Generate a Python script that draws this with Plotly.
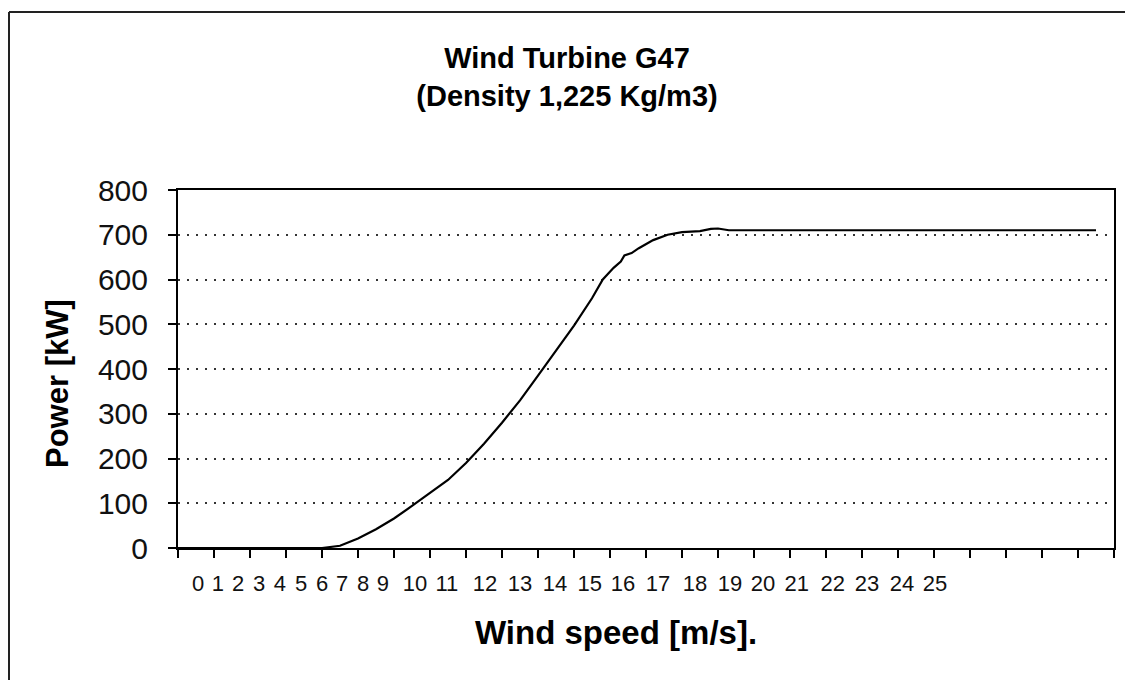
import plotly.graph_objects as go

# ---- data ----
wind_speed = [0, 4.0, 4.5, 5.0, 5.5, 6.0, 6.5, 7.0, 7.5, 8.0, 8.5, 9.0, 9.5, 10.0,
              10.5, 11.0, 11.5, 11.8, 12.1, 12.3, 12.4, 12.6, 12.8, 13.2, 13.6,
              14.0, 14.5, 14.8, 15.0, 15.3, 25.5]
power_kw = [0, 0, 5, 21, 42, 66, 94, 122, 152, 190, 233, 280, 330, 385,
            440, 497, 558, 600, 626, 640, 654, 659, 670, 688, 700,
            706, 708, 713, 714, 710, 710]

x_tick_labels = [str(i) for i in range(26)]
# where the (misaligned) category labels sit along the axis, in axis units
x_label_positions = [0.56, 1.11, 1.67, 2.25, 2.83, 3.42, 4.0, 4.56, 5.14, 5.69,
                     6.58, 7.47, 8.53, 9.5, 10.47, 11.44, 12.36, 13.33, 14.36,
                     15.33, 16.25, 17.19, 18.19, 19.14, 20.11, 21.03]
y_ticks = [0, 100, 200, 300, 400, 500, 600, 700, 800]
x_ticks = list(range(27))

FONT = "Liberation Sans, Arial, sans-serif"

# page has an 8px body margin: work in viewport pixels and shift by OFF
OFF = 8
W, H = 1133 - OFF, 680 - OFF
PL, PR, PT, PB = 178, 1114, 190, 548          # plot area in viewport px
PW, PH = PR - PL, PB - PT


def px(xv):
    return (xv - PL) / PW


def py(yv):
    return (PB - yv) / PH


fig = go.Figure()
fig.add_trace(go.Scatter(x=wind_speed, y=power_kw, mode="lines",
                         line=dict(color="black", width=2.2), showlegend=False,
                         hoverinfo="skip"))
# invisible trace bound to the label axis
fig.add_trace(go.Scatter(x=[0, 26], y=[0, 0], xaxis="x2", mode="lines",
                         line=dict(color="rgba(0,0,0,0)"), showlegend=False,
                         hoverinfo="skip"))

fig.update_layout(
    width=W, height=H,
    paper_bgcolor="white", plot_bgcolor="white",
    margin=dict(l=PL - OFF, r=W - (PR - OFF), t=PT - OFF, b=H - (PB - OFF)),
    font=dict(family=FONT, color="black"),
    title=dict(text="<b>Wind Turbine G47<br>(Density 1,225 Kg/m3)</b>",
               x=(567 - OFF) / W, xref="container", xanchor="center",
               y=1 - 60 / H, yref="container", yanchor="middle",
               font=dict(size=29, family=FONT, color="black")),
    xaxis=dict(range=[0, 26], tickvals=x_ticks, showticklabels=False,
               ticks="outside", ticklen=8, tickwidth=2, tickcolor="black",
               showline=True, linecolor="black", linewidth=2, mirror=True,
               showgrid=False, zeroline=False),
    xaxis2=dict(range=[0, 26], overlaying="x", anchor="y", side="bottom",
                tickvals=x_label_positions, ticktext=x_tick_labels,
                ticks="outside", ticklen=16, tickcolor="rgba(0,0,0,0)",
                tickfont=dict(size=22, family=FONT, color="#111"),
                showline=False, showgrid=False, zeroline=False),
    yaxis=dict(range=[0, 800], tickvals=y_ticks,
               ticks="outside", ticklen=8, tickwidth=2, tickcolor="black",
               ticklabelstandoff=14,
               tickfont=dict(size=30, family=FONT, color="#111"),
               showline=True, linecolor="black", linewidth=2, mirror=True,
               showgrid=True, gridcolor="#333", gridwidth=2, griddash="2px,7px",
               zeroline=False),
    annotations=[
        dict(text="<b>Wind speed [m/s].</b>", xref="paper", yref="paper",
             x=px(616), y=py(632), showarrow=False,
             xanchor="center", yanchor="middle",
             font=dict(size=33, family=FONT, color="black")),
        dict(text="<b>Power [kW]</b>", xref="paper", yref="paper",
             x=px(57), y=py(383), showarrow=False,
             textangle=-90, xanchor="center", yanchor="middle",
             font=dict(size=31, family=FONT, color="black")),
    ],
    shapes=[
        dict(type="line", xref="paper", yref="paper",
             x0=px(9), x1=px(9), y0=py(800), y1=py(12),
             line=dict(color="#222", width=2), layer="below"),
        dict(type="line", xref="paper", yref="paper",
             x0=px(9), x1=px(1300), y0=py(12), y1=py(12),
             line=dict(color="#222", width=2), layer="below"),
    ],
)

fig.write_html("out.html")
